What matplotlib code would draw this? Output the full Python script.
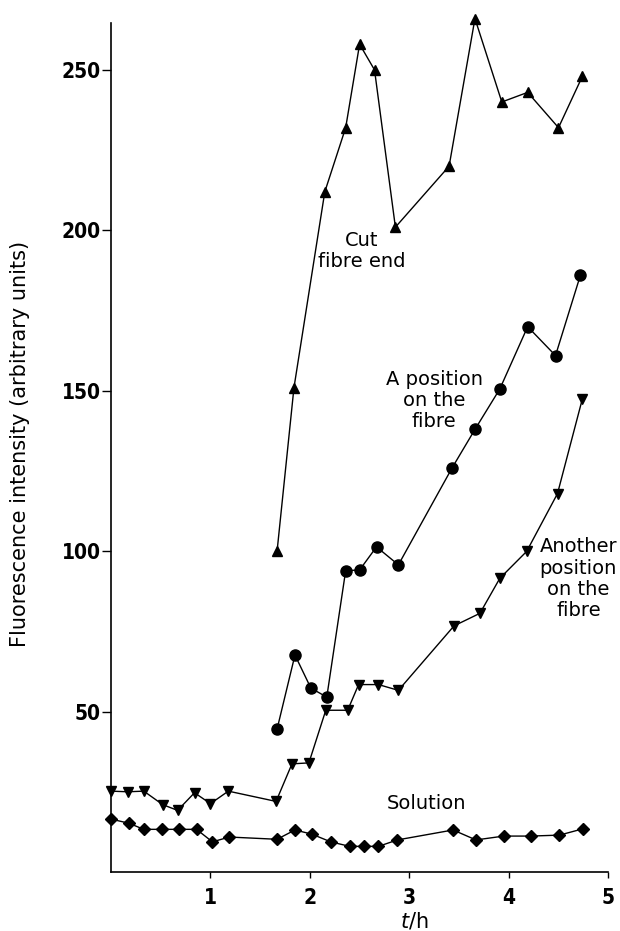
import matplotlib
matplotlib.use('Agg')
import matplotlib.pyplot as plt

# time in hours
t_cut = [1.67, 1.84, 2.15, 2.36, 2.50, 2.65, 2.86, 3.40, 3.66, 3.93, 4.19, 4.50, 4.74]
cut_end = [100, 151, 212, 232, 258, 250, 201, 220, 266, 240, 243, 232, 248]

t_pos = [1.67, 1.85, 2.01, 2.17, 2.36, 2.50, 2.67, 2.89, 3.43, 3.66, 3.91, 4.19, 4.47, 4.72]
on_fibre = [44.6, 67.7, 57.4, 54.6, 94, 94.2, 101.4, 95.8, 126, 138, 150.6, 170, 161, 186]

t_other = [0.0, 0.17, 0.33, 0.52, 0.67, 0.84, 1.0, 1.18, 1.66, 1.82, 1.99, 2.16, 2.38,
           2.49, 2.69, 2.89, 3.45, 3.71, 3.91, 4.18, 4.49, 4.74]
other_pos = [25.3, 25.1, 25.3, 21.1, 19.3, 24.8, 21.4, 25.3, 22.1, 33.8, 34.1, 50.5, 50.5,
             58.5, 58.5, 56.7, 76.8, 80.7, 91.6, 100, 118, 147.5]

t_sol = [0.0, 0.18, 0.33, 0.51, 0.68, 0.86, 1.02, 1.19, 1.67, 1.85, 2.02, 2.21, 2.40,
         2.54, 2.69, 2.88, 3.44, 3.67, 3.95, 4.22, 4.51, 4.75]
solution = [16.6, 15.3, 13.4, 13.4, 13.4, 13.4, 9.5, 11.0, 10.3, 13.2, 11.9, 9.5, 8.1,
            8.1, 8.1, 10.1, 13.2, 10.1, 11.3, 11.3, 11.6, 13.6]

x_ticks = [1, 2, 3, 4, 5]
y_ticks = [50, 100, 150, 200, 250]

fig = plt.figure(figsize=(6.2, 9.31), dpi=100)
ax = fig.add_axes([0.179, 0.063, 0.802, 0.9126])

lw = 1.0
ax.plot(t_cut, cut_end, color='black', lw=lw, marker='^', ms=7, clip_on=False)
ax.plot(t_pos, on_fibre, color='black', lw=lw, marker='o', ms=8, clip_on=False)
ax.plot(t_other, other_pos, color='black', lw=lw, marker='v', ms=7, clip_on=False)
ax.plot(t_sol, solution, color='black', lw=lw, marker='D', ms=6, clip_on=False)

#labels next to the curves
txt = dict(fontsize=14, family='DejaVu Sans', ha='center', va='center', linespacing=1.15)
ax.text(2.52, 193.5, 'Cut\nfibre end', **txt)
ax.text(3.25, 147, 'A position\non the\nfibre', **txt)
ax.text(4.70, 91.5, 'Another\nposition\non the\nfibre', **txt)
ax.text(3.17, 21.4, 'Solution', **txt)

ax.set_xlim(0, 5)
ax.set_ylim(0, 264.7)
ax.set_xticks(x_ticks)
ax.set_yticks(y_ticks)

# narrow bold digits like the original
tickfont = dict(family='DejaVu Sans', stretch='condensed', weight='bold', size=15)
ax.set_xticklabels([str(v) for v in x_ticks], **tickfont)
ax.set_yticklabels([str(v) for v in y_ticks], **tickfont)
ax.tick_params(axis='x', direction='out', length=4.5, width=1.0, pad=7)
ax.tick_params(axis='y', direction='out', length=6.5, width=1.0, pad=1)

for side in ['top', 'right']:
    ax.spines[side].set_visible(False)
for side in ['left', 'bottom']:
    ax.spines[side].set_linewidth(1.2)

ax.set_xlabel(r'$t$/h', fontsize=15, family='DejaVu Sans')
ax.xaxis.set_label_coords(0.611, -0.045)

fig.text(20 / 620, 1 - 444 / 931, 'Fluorescence intensity (arbitrary units)',
         rotation=90, ha='center', va='center', fontsize=15, family='DejaVu Sans')

fig.savefig('out.png', dpi=100)
